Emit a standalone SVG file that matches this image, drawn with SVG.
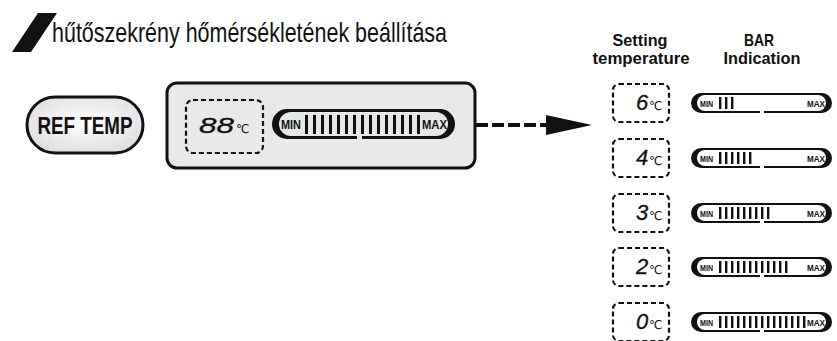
<svg xmlns="http://www.w3.org/2000/svg" width="837" height="341" viewBox="0 0 837 341">
<defs>
<radialGradient id="btnGrad" cx="50%" cy="45%" r="60%">
<stop offset="0%" stop-color="#ffffff"/>
<stop offset="100%" stop-color="#dedede"/>
</radialGradient>
</defs>
<style>
text{font-family:"Liberation Sans",Arial,sans-serif;fill:#111}
.hdr{font-size:17px;font-weight:bold}
.btn{font-size:24px;font-weight:bold}
.dash{fill:none;stroke:#111;stroke-width:2.2;stroke-dasharray:5 3}
.digit{font-style:italic;font-size:22px;stroke:#111;stroke-width:0.3}
.deg{font-family:"DejaVu Sans",sans-serif;font-size:12px}
.mm{font-weight:bold;font-size:9px}
.mmL{font-weight:bold;font-size:13px}
.bar{fill:#111}
.outer{fill:#111}
.inW{fill:#fff}
.inG{fill:#e7e7e7}
</style>
<rect width="837" height="341" fill="#fff"/>

<g id="title">
<polygon points="12,52 31,52 57,13 38,13" fill="#111"/>
<text x="52" y="42" font-size="28" textLength="395" lengthAdjust="spacingAndGlyphs">hűtőszekrény hőmérsékletének beállítása</text>
</g>

<g id="ref-temp-button">
<rect x="27" y="97" width="116" height="56" rx="28" fill="url(#btnGrad)" stroke="#111" stroke-width="3"/>
<text class="btn" x="85" y="134" text-anchor="middle" textLength="95" lengthAdjust="spacingAndGlyphs">REF TEMP</text>
</g>

<g id="display-panel">
<rect x="167" y="83" width="308" height="85" rx="10" fill="#e9e9e9" stroke="#111" stroke-width="3"/>
<rect class="dash" x="186" y="100" width="77" height="53" rx="7"/>
<text class="digit" x="199" y="133" font-size="27" textLength="35" lengthAdjust="spacingAndGlyphs">88</text>
<text class="deg" x="236" y="133" font-size="14">℃</text>
<rect class="outer" x="272" y="109" width="183" height="30" rx="15"/>
<rect class="inG" x="279" y="112" width="169" height="24" rx="12"/>
<rect class="inG" x="357" y="135" width="5" height="5"/>
<text class="mmL" x="281" y="129" textLength="20" lengthAdjust="spacingAndGlyphs">MIN</text>
<text class="mmL" x="422" y="129" textLength="25" lengthAdjust="spacingAndGlyphs">MAX</text>
<g class="bar">
<rect x="305" y="115" width="3" height="19"/><rect x="313" y="115" width="3" height="19"/><rect x="321" y="115" width="3" height="19"/><rect x="329" y="115" width="3" height="19"/><rect x="337" y="115" width="3" height="19"/><rect x="345" y="115" width="3" height="19"/><rect x="353" y="115" width="3" height="19"/><rect x="361" y="115" width="3" height="19"/><rect x="369" y="115" width="3" height="19"/><rect x="377" y="115" width="3" height="19"/><rect x="385" y="115" width="3" height="19"/><rect x="393" y="115" width="3" height="19"/><rect x="401" y="115" width="3" height="19"/><rect x="409" y="115" width="3" height="19"/><rect x="417" y="115" width="3" height="19"/>
</g>
</g>

<g id="connectors">
<line x1="476" y1="125" x2="548" y2="125" stroke="#111" stroke-width="4" stroke-dasharray="12 4"/>
<polygon points="546,115 592,125 546,135" fill="#111"/>
</g>

<g id="headers">
<text class="hdr" x="640" y="46" text-anchor="middle" textLength="55" lengthAdjust="spacingAndGlyphs">Setting</text>
<text class="hdr" x="641" y="64" text-anchor="middle" textLength="97" lengthAdjust="spacingAndGlyphs">temperature</text>
<text class="hdr" x="759" y="46" text-anchor="middle" textLength="30" lengthAdjust="spacingAndGlyphs">BAR</text>
<text class="hdr" x="762" y="64" text-anchor="middle" textLength="77" lengthAdjust="spacingAndGlyphs">Indication</text>
</g>

<g id="row-6" transform="translate(0,103)">
<rect class="dash" x="613" y="-19" width="56" height="38" rx="6"/>
<text class="digit" x="636" y="7">6</text>
<text class="deg" x="649" y="7">℃</text>
<rect class="outer" x="691" y="-10" width="141" height="20" rx="10"/>
<rect class="inW" x="697" y="-8" width="129" height="16" rx="8"/>
<rect class="inW" x="760" y="6" width="4" height="5"/>
<text class="mm" x="700" y="4" textLength="13" lengthAdjust="spacingAndGlyphs">MIN</text>
<text class="mm" x="807" y="4" textLength="18" lengthAdjust="spacingAndGlyphs">MAX</text>
<g class="bar"><rect x="719" y="-6" width="2.4" height="12"/><rect x="725" y="-6" width="2.4" height="12"/><rect x="731" y="-6" width="2.4" height="12"/></g>
</g>

<g id="row-4" transform="translate(0,158)">
<rect class="dash" x="613" y="-19" width="56" height="38" rx="6"/>
<text class="digit" x="636" y="7">4</text>
<text class="deg" x="649" y="7">℃</text>
<rect class="outer" x="691" y="-10" width="141" height="20" rx="10"/>
<rect class="inW" x="697" y="-8" width="129" height="16" rx="8"/>
<rect class="inW" x="760" y="6" width="4" height="5"/>
<text class="mm" x="700" y="4" textLength="13" lengthAdjust="spacingAndGlyphs">MIN</text>
<text class="mm" x="807" y="4" textLength="18" lengthAdjust="spacingAndGlyphs">MAX</text>
<g class="bar"><rect x="719" y="-6" width="2.4" height="12"/><rect x="725" y="-6" width="2.4" height="12"/><rect x="731" y="-6" width="2.4" height="12"/><rect x="737" y="-6" width="2.4" height="12"/><rect x="743" y="-6" width="2.4" height="12"/><rect x="749" y="-6" width="2.4" height="12"/></g>
</g>

<g id="row-3" transform="translate(0,213)">
<rect class="dash" x="613" y="-19" width="56" height="38" rx="6"/>
<text class="digit" x="636" y="7">3</text>
<text class="deg" x="649" y="7">℃</text>
<rect class="outer" x="691" y="-10" width="141" height="20" rx="10"/>
<rect class="inW" x="697" y="-8" width="129" height="16" rx="8"/>
<rect class="inW" x="760" y="6" width="4" height="5"/>
<text class="mm" x="700" y="4" textLength="13" lengthAdjust="spacingAndGlyphs">MIN</text>
<text class="mm" x="807" y="4" textLength="18" lengthAdjust="spacingAndGlyphs">MAX</text>
<g class="bar"><rect x="719" y="-6" width="2.4" height="12"/><rect x="725" y="-6" width="2.4" height="12"/><rect x="731" y="-6" width="2.4" height="12"/><rect x="737" y="-6" width="2.4" height="12"/><rect x="743" y="-6" width="2.4" height="12"/><rect x="749" y="-6" width="2.4" height="12"/><rect x="755" y="-6" width="2.4" height="12"/><rect x="761" y="-6" width="2.4" height="12"/><rect x="767" y="-6" width="2.4" height="12"/></g>
</g>

<g id="row-2" transform="translate(0,267)">
<rect class="dash" x="613" y="-19" width="56" height="38" rx="6"/>
<text class="digit" x="636" y="7">2</text>
<text class="deg" x="649" y="7">℃</text>
<rect class="outer" x="691" y="-10" width="141" height="20" rx="10"/>
<rect class="inW" x="697" y="-8" width="129" height="16" rx="8"/>
<rect class="inW" x="760" y="6" width="4" height="5"/>
<text class="mm" x="700" y="4" textLength="13" lengthAdjust="spacingAndGlyphs">MIN</text>
<text class="mm" x="807" y="4" textLength="18" lengthAdjust="spacingAndGlyphs">MAX</text>
<g class="bar"><rect x="719" y="-6" width="2.4" height="12"/><rect x="725" y="-6" width="2.4" height="12"/><rect x="731" y="-6" width="2.4" height="12"/><rect x="737" y="-6" width="2.4" height="12"/><rect x="743" y="-6" width="2.4" height="12"/><rect x="749" y="-6" width="2.4" height="12"/><rect x="755" y="-6" width="2.4" height="12"/><rect x="761" y="-6" width="2.4" height="12"/><rect x="767" y="-6" width="2.4" height="12"/><rect x="773" y="-6" width="2.4" height="12"/><rect x="779" y="-6" width="2.4" height="12"/><rect x="785" y="-6" width="2.4" height="12"/></g>
</g>

<g id="row-0" transform="translate(0,322)">
<rect class="dash" x="613" y="-19" width="56" height="38" rx="6"/>
<text class="digit" x="636" y="7">0</text>
<text class="deg" x="649" y="7">℃</text>
<rect class="outer" x="691" y="-10" width="141" height="20" rx="10"/>
<rect class="inW" x="697" y="-8" width="129" height="16" rx="8"/>
<rect class="inW" x="760" y="6" width="4" height="5"/>
<text class="mm" x="700" y="4" textLength="13" lengthAdjust="spacingAndGlyphs">MIN</text>
<text class="mm" x="807" y="4" textLength="18" lengthAdjust="spacingAndGlyphs">MAX</text>
<g class="bar"><rect x="719" y="-6" width="2.4" height="12"/><rect x="725" y="-6" width="2.4" height="12"/><rect x="731" y="-6" width="2.4" height="12"/><rect x="737" y="-6" width="2.4" height="12"/><rect x="743" y="-6" width="2.4" height="12"/><rect x="749" y="-6" width="2.4" height="12"/><rect x="755" y="-6" width="2.4" height="12"/><rect x="761" y="-6" width="2.4" height="12"/><rect x="767" y="-6" width="2.4" height="12"/><rect x="773" y="-6" width="2.4" height="12"/><rect x="779" y="-6" width="2.4" height="12"/><rect x="785" y="-6" width="2.4" height="12"/><rect x="791" y="-6" width="2.4" height="12"/><rect x="797" y="-6" width="2.4" height="12"/><rect x="803" y="-6" width="2.4" height="12"/></g>
</g>
</svg>
